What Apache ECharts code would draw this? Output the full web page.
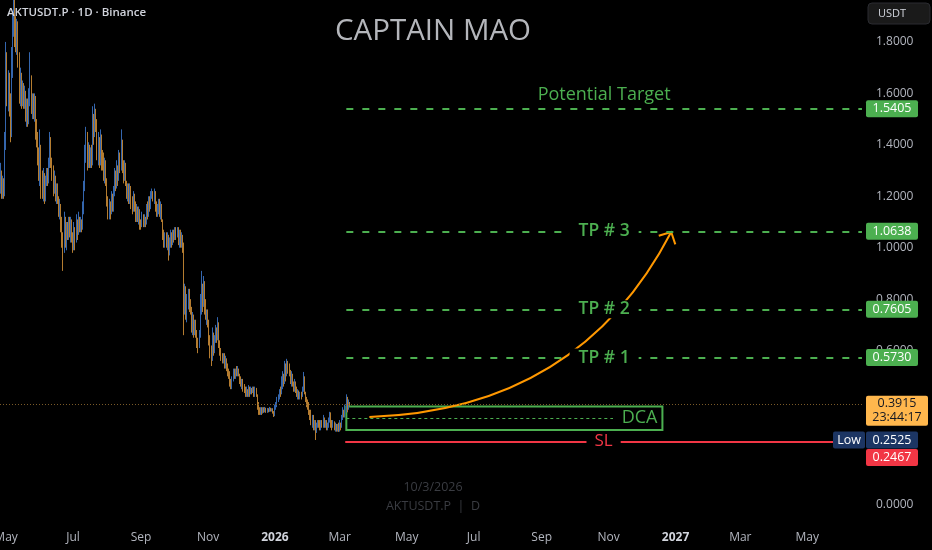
<!DOCTYPE html>
<html><head><meta charset="utf-8">
<script src="https://cdn.jsdelivr.net/npm/echarts@6/dist/echarts.min.js"></script>
<style>html,body{margin:0;padding:0;background:#000}#c{width:932px;height:550px}</style>
</head><body><div id="c"></div>
<script>
// ---------- data ----------
const firstDay = '2025-04-26';
const opens = [
1.25,1.29,1.22,1.25,1.21,1.40,1.72,1.60,1.66,1.56,
1.45,1.70,1.88,1.95,1.84,1.80,1.86,1.74,1.60,1.66,
1.57,1.62,1.56,1.60,1.52,1.56,1.50,1.58,1.66,1.55,
1.58,1.53,1.58,1.46,1.44,1.36,1.30,1.38,1.24,1.22,
1.27,1.20,1.25,1.29,1.26,1.33,1.42,1.34,1.30,1.24,
1.28,1.21,1.24,1.19,1.15,1.17,1.10,1.04,0.99,1.10,
1.04,1.07,1.04,1.10,1.06,1.10,1.04,1.00,1.07,1.02,
1.10,1.06,1.12,1.07,1.10,1.08,1.15,1.24,1.36,1.44,
1.34,1.38,1.33,1.37,1.33,1.48,1.44,1.52,1.47,1.38,
1.42,1.35,1.43,1.36,1.34,1.29,1.33,1.26,1.19,1.14,
1.16,1.13,1.19,1.15,1.21,1.28,1.25,1.31,1.27,1.35,
1.32,1.40,1.31,1.28,1.32,1.26,1.22,1.24,1.19,1.23,
1.18,1.15,1.20,1.17,1.12,1.15,1.11,1.14,1.09,1.08,
1.12,1.09,1.11,1.09,1.15,1.13,1.18,1.16,1.20,1.21,
1.19,1.21,1.16,1.13,1.15,1.18,1.14,1.16,1.11,1.05,
1.02,1.05,1.02,1.04,0.99,1.02,1.05,1.02,1.06,1.04,
1.07,1.05,1.07,1.03,1.06,1.02,1.04,1.00,0.80,0.84,
0.76,0.80,0.83,0.78,0.76,0.70,0.73,0.69,0.71,0.67,
0.63,0.62,0.66,0.78,0.84,0.79,0.86,0.78,0.73,0.75,
0.71,0.64,0.60,0.57,0.65,0.61,0.64,0.68,0.65,0.70,
0.63,0.60,0.58,0.57,0.58,0.55,0.57,0.54,0.52,0.50,
0.47,0.46,0.49,0.52,0.50,0.52,0.51,0.53,0.51,0.49,
0.47,0.48,0.46,0.45,0.43,0.44,0.43,0.45,0.43,0.445,
0.44,0.45,0.43,0.45,0.43,0.39,0.37,0.36,0.37,0.36,
0.37,0.365,0.375,0.365,0.372,0.365,0.375,0.368,0.372,0.36,
0.35,0.38,0.39,0.40,0.42,0.44,0.43,0.47,0.50,0.48,
0.53,0.50,0.55,0.53,0.51,0.49,0.50,0.47,0.45,0.47,
0.45,0.43,0.44,0.42,0.43,0.42,0.45,0.49,0.44,0.41,
0.40,0.39,0.36,0.35,0.33,0.34,0.30,0.32,0.29,0.31,
0.32,0.31,0.30,0.32,0.31,0.33,0.31,0.32,0.30,0.31,
0.33,0.35,0.32,0.31,0.32,0.30,0.31,0.295,0.305,0.295,
0.31,0.30,0.34,0.36,0.35,0.37,0.41,0.38,0.395];
const closes = [
1.29,1.22,1.25,1.21,1.40,1.72,1.60,1.66,1.56,1.45,
1.70,1.88,1.95,1.84,1.80,1.86,1.74,1.60,1.66,1.57,
1.62,1.56,1.60,1.52,1.56,1.50,1.58,1.66,1.55,1.58,
1.53,1.58,1.46,1.44,1.36,1.30,1.38,1.24,1.22,1.27,
1.20,1.25,1.29,1.26,1.33,1.42,1.34,1.30,1.24,1.28,
1.21,1.24,1.19,1.15,1.17,1.10,1.04,0.99,1.10,1.04,
1.07,1.04,1.10,1.06,1.10,1.04,1.00,1.07,1.02,1.10,
1.06,1.12,1.07,1.10,1.08,1.15,1.24,1.36,1.44,1.34,
1.38,1.33,1.37,1.33,1.48,1.44,1.52,1.47,1.38,1.42,
1.35,1.43,1.36,1.34,1.29,1.33,1.26,1.19,1.14,1.16,
1.13,1.19,1.15,1.21,1.28,1.25,1.31,1.27,1.35,1.32,
1.40,1.31,1.28,1.32,1.26,1.22,1.24,1.19,1.23,1.18,
1.15,1.20,1.17,1.12,1.15,1.11,1.14,1.09,1.08,1.12,
1.09,1.11,1.09,1.15,1.13,1.18,1.16,1.20,1.21,1.19,
1.21,1.16,1.13,1.15,1.18,1.14,1.16,1.11,1.05,1.02,
1.05,1.02,1.04,0.99,1.02,1.05,1.02,1.06,1.04,1.07,
1.05,1.07,1.03,1.06,1.02,1.04,1.00,0.80,0.84,0.76,
0.80,0.83,0.78,0.76,0.70,0.73,0.69,0.71,0.67,0.63,
0.62,0.66,0.78,0.84,0.79,0.86,0.78,0.73,0.75,0.71,
0.64,0.60,0.57,0.65,0.61,0.64,0.68,0.65,0.70,0.63,
0.60,0.58,0.57,0.58,0.55,0.57,0.54,0.52,0.50,0.47,
0.46,0.49,0.52,0.50,0.52,0.51,0.53,0.51,0.49,0.47,
0.48,0.46,0.45,0.43,0.44,0.43,0.45,0.43,0.445,0.44,
0.45,0.43,0.45,0.43,0.39,0.37,0.36,0.37,0.36,0.37,
0.365,0.375,0.365,0.372,0.365,0.375,0.368,0.372,0.36,0.35,
0.38,0.39,0.40,0.42,0.44,0.43,0.47,0.50,0.48,0.53,
0.50,0.55,0.53,0.51,0.49,0.50,0.47,0.45,0.47,0.45,
0.43,0.44,0.42,0.43,0.42,0.45,0.49,0.44,0.41,0.40,
0.39,0.36,0.35,0.33,0.34,0.30,0.32,0.29,0.31,0.32,
0.31,0.30,0.32,0.31,0.33,0.31,0.32,0.30,0.31,0.33,
0.35,0.32,0.31,0.32,0.30,0.31,0.295,0.305,0.295,0.31,
0.30,0.34,0.36,0.35,0.37,0.41,0.38,0.395,0.3915];
const lows = [
1.21,1.19,1.19,1.19,1.20,1.38,1.55,1.53,1.51,1.41,
1.43,1.66,1.82,1.78,1.76,1.75,1.70,1.56,1.55,1.54,
1.55,1.54,1.54,1.49,1.47,1.47,1.48,1.55,1.52,1.50,
1.50,1.49,1.42,1.39,1.32,1.26,1.24,1.19,1.19,1.18,
1.17,1.18,1.24,1.24,1.25,1.31,1.31,1.26,1.20,1.21,
1.18,1.17,1.17,1.12,1.11,1.06,1.00,0.91,0.98,1.00,
0.99,1.03,1.03,1.04,1.02,1.02,0.98,0.99,0.99,1.02,
1.03,1.05,1.06,1.06,1.06,1.07,1.13,1.22,1.33,1.30,
1.31,1.31,1.31,1.31,1.32,1.40,1.43,1.45,1.34,1.32,
1.31,1.32,1.30,1.30,1.26,1.25,1.24,1.16,1.11,1.11,
1.11,1.13,1.14,1.14,1.20,1.22,1.23,1.24,1.26,1.29,
1.30,1.29,1.25,1.26,1.24,1.19,1.18,1.17,1.17,1.15,
1.13,1.14,1.14,1.10,1.10,1.10,1.09,1.07,1.07,1.08,
1.08,1.08,1.08,1.09,1.11,1.12,1.14,1.15,1.19,1.18,
1.17,1.14,1.12,1.12,1.13,1.12,1.11,1.10,1.03,1.00,
1.00,1.00,0.99,0.95,0.97,1.00,1.00,1.01,1.02,1.03,
1.03,1.04,1.01,1.00,1.00,1.00,0.98,0.66,0.74,0.72,
0.71,0.76,0.75,0.74,0.67,0.66,0.65,0.66,0.65,0.61,
0.59,0.61,0.65,0.74,0.75,0.77,0.74,0.72,0.70,0.69,
0.62,0.57,0.54,0.56,0.58,0.59,0.63,0.63,0.64,0.61,
0.58,0.56,0.55,0.55,0.53,0.53,0.52,0.50,0.49,0.46,
0.45,0.45,0.48,0.49,0.49,0.50,0.50,0.50,0.47,0.46,
0.45,0.44,0.435,0.42,0.42,0.42,0.42,0.42,0.43,0.43,
0.435,0.42,0.42,0.42,0.37,0.35,0.35,0.35,0.35,0.355,
0.358,0.36,0.358,0.358,0.36,0.362,0.363,0.363,0.355,0.342,
0.345,0.37,0.38,0.40,0.41,0.42,0.43,0.45,0.46,0.47,
0.48,0.50,0.51,0.50,0.47,0.46,0.46,0.44,0.44,0.435,
0.42,0.41,0.41,0.41,0.41,0.42,0.44,0.43,0.40,0.38,
0.37,0.35,0.33,0.31,0.30,0.29,0.29,0.2525,0.28,0.30,
0.30,0.29,0.29,0.30,0.30,0.30,0.30,0.29,0.29,0.30,
0.32,0.30,0.29,0.30,0.29,0.285,0.285,0.285,0.284,0.285,
0.29,0.30,0.33,0.34,0.34,0.36,0.36,0.37,0.385];
const highs = [
1.33,1.30,1.28,1.27,1.45,1.80,1.76,1.69,1.68,1.60,
1.78,1.92,1.98,1.97,1.90,1.89,1.88,1.76,1.70,1.68,
1.65,1.64,1.63,1.61,1.58,1.58,1.62,1.76,1.67,1.60,
1.60,1.60,1.59,1.50,1.45,1.39,1.46,1.40,1.30,1.31,
1.29,1.28,1.31,1.31,1.35,1.45,1.43,1.35,1.32,1.30,
1.28,1.25,1.25,1.20,1.19,1.17,1.12,1.06,1.14,1.12,
1.10,1.10,1.12,1.12,1.12,1.11,1.06,1.10,1.08,1.13,
1.11,1.14,1.12,1.12,1.11,1.18,1.26,1.40,1.47,1.45,
1.41,1.40,1.39,1.40,1.55,1.52,1.56,1.54,1.50,1.45,
1.43,1.46,1.44,1.38,1.37,1.35,1.34,1.27,1.20,1.19,
1.18,1.22,1.21,1.24,1.31,1.30,1.34,1.32,1.38,1.37,
1.46,1.42,1.34,1.34,1.33,1.26,1.25,1.25,1.25,1.24,
1.20,1.22,1.21,1.18,1.17,1.16,1.16,1.15,1.11,1.14,
1.13,1.13,1.12,1.17,1.18,1.20,1.20,1.22,1.23,1.22,
1.23,1.22,1.18,1.17,1.19,1.19,1.18,1.17,1.11,1.07,
1.06,1.06,1.06,1.05,1.04,1.07,1.06,1.07,1.07,1.08,
1.08,1.08,1.08,1.07,1.07,1.06,1.05,1.02,0.86,0.85,
0.82,0.84,0.84,0.80,0.77,0.75,0.74,0.72,0.72,0.68,
0.65,0.68,0.82,0.91,0.86,0.89,0.87,0.80,0.76,0.76,
0.72,0.66,0.62,0.69,0.67,0.66,0.70,0.69,0.73,0.71,
0.64,0.61,0.59,0.59,0.59,0.58,0.57,0.55,0.53,0.52,
0.49,0.50,0.53,0.53,0.53,0.54,0.54,0.53,0.51,0.50,
0.49,0.49,0.47,0.46,0.46,0.45,0.466,0.46,0.46,0.455,
0.46,0.46,0.46,0.455,0.43,0.40,0.38,0.38,0.38,0.38,
0.38,0.381,0.378,0.377,0.376,0.381,0.378,0.376,0.376,0.365,
0.39,0.40,0.42,0.43,0.45,0.46,0.50,0.52,0.51,0.56,
0.55,0.568,0.56,0.55,0.525,0.52,0.51,0.48,0.49,0.48,
0.46,0.45,0.445,0.44,0.44,0.46,0.517,0.50,0.44,0.42,
0.41,0.40,0.37,0.37,0.35,0.35,0.33,0.33,0.32,0.33,
0.33,0.33,0.33,0.33,0.35,0.34,0.33,0.33,0.32,0.34,
0.362,0.36,0.33,0.33,0.325,0.32,0.315,0.315,0.32,0.33,
0.32,0.35,0.38,0.37,0.39,0.43,0.42,0.41,0.40];

const xMonthTicks = ['2025-05-01','2025-07-01','2025-09-01','2025-11-01','2026-01-01','2026-03-01',
  '2026-05-01','2026-07-01','2026-09-01','2026-11-01','2027-01-01','2027-03-01','2027-05-01'];
const monthNames = ['Jan','Feb','Mar','Apr','May','Jun','Jul','Aug','Sep','Oct','Nov','Dec'];
const yTicks = [0, 0.6, 0.8, 1.0, 1.2, 1.4, 1.6, 1.8];

const targetLevel = 1.5405;
const tpLevels = [1.0638, 0.7605, 0.5730];
const tpNames = ['TP # 3', 'TP # 2', 'TP # 1'];
const dcaTop = 0.3822, dcaMid = 0.337, dcaBottom = 0.2916;
const slLevel = 0.2467;
const lastPrice = 0.3915, lowPrice = 0.2525, countdown = '23:44:17';
const planStart = '2026-03-07', dcaEnd = '2026-12-20', dcaMidEnd = '2026-11-05';
const arrowPts = [['2026-03-28', 0.342], ['2026-10-05', 0.369], ['2026-12-28', 1.061]];
const tagValues = [targetLevel, tpLevels[0], tpLevels[1], tpLevels[2], lastPrice, lowPrice, slLevel];

// ---------- styles ----------
const DAY = 86400000;
const ts = s => Date.parse(s + 'T00:00:00Z');
const GREEN = '#4caf50', RED = '#f23645', ORANGE = '#ff9800', UP = '#3466ae', DOWN = '#b47c30';
const FONT = '"Open Sans", "Noto Sans", sans-serif';
const AXIS_TXT = '#b2b5be';
const xMin = ts('2026-01-01') - 250.55 * DAY, xMax = ts('2026-01-01') + 534.85 * DAY;
const lineEnd = xMax - 3600000;
const tagStyles = [
  {bg: GREEN, fg: '#fff'}, {bg: GREEN, fg: '#fff'}, {bg: GREEN, fg: '#fff'}, {bg: GREEN, fg: '#fff'},
  {bg: '#ffb74d', fg: '#131722', sub: countdown, w: 62},
  {bg: '#1c3563', fg: '#fff', pre: 'Low'},
  {bg: RED, fg: '#fff', dy: 16}
];

const candleData = opens.map((o, i) => [ts(firstDay) + i * DAY, o, closes[i], lows[i], highs[i]]);

const dashGreen = {color: GREEN, width: 2, type: [7, 9]};
const markLines = [
  {yAxis: lastPrice, lineStyle: {color: '#7a5a28', width: 1, type: [1, 2]}, label: {show: false}},
  [{coord: [ts(planStart), targetLevel], lineStyle: dashGreen,
    label: {show: true, position: 'insideMiddleTop', distance: 5, formatter: 'Potential Target',
      color: GREEN, fontSize: 18, fontFamily: FONT}},
   {coord: [lineEnd, targetLevel]}],
  ...tpLevels.map((v, k) => [
    {coord: [ts(planStart), v], lineStyle: dashGreen,
     label: {show: true, position: 'middle', distance: 0, verticalAlign: 'middle', formatter: tpNames[k],
       color: GREEN, fontSize: 17.5, fontWeight: 600, fontFamily: FONT, backgroundColor: '#000', padding: [0, 9]}},
    {coord: [lineEnd, v]}]),
  [{coord: [ts(planStart), dcaMid], lineStyle: {color: GREEN, width: 1, type: [3, 3]}, label: {show: false}},
   {coord: [ts(dcaMidEnd), dcaMid]}],
  [{coord: [ts(planStart) - DAY, slLevel], lineStyle: {color: RED, width: 2, type: 'solid'},
    label: {show: true, position: 'middle', distance: 0, verticalAlign: 'middle', formatter: 'SL',
      color: RED, fontSize: 17, fontFamily: FONT, backgroundColor: '#000', padding: [0, 8]}},
   {coord: [lineEnd, slLevel]}]
];

function renderArrow(params, api) {
  const p0 = api.coord([ts(arrowPts[0][0]), arrowPts[0][1]]);
  const c = api.coord([ts(arrowPts[1][0]), arrowPts[1][1]]);
  const p2 = api.coord([ts(arrowPts[2][0]), arrowPts[2][1]]);
  const dx = p2[0] - c[0], dy = p2[1] - c[1], len = Math.hypot(dx, dy);
  const bx = -dx / len, by = -dy / len, L = 13, a = 0.8;
  const rot = ang => [p2[0] + L * (bx * Math.cos(ang) - by * Math.sin(ang)),
                      p2[1] + L * (bx * Math.sin(ang) + by * Math.cos(ang))];
  return {type: 'group', children: [
    {type: 'bezierCurve', shape: {x1: p0[0], y1: p0[1], x2: p2[0], y2: p2[1], cpx1: c[0], cpy1: c[1]},
     style: {stroke: ORANGE, lineWidth: 2, fill: null}},
    {type: 'polyline', shape: {points: [rot(a), p2, rot(-a)]}, style: {stroke: ORANGE, lineWidth: 2, fill: null}}
  ]};
}

function renderTag(params, api) {
  const i = params.dataIndex, st = tagStyles[i];
  const p = api.coord([api.value(0), api.value(1)]);
  const x0 = p[0] + 4, w = st.w || 52, h = st.sub ? 30 : 17;
  const y0 = p[1] - 8.5 + (st.dy || 0);
  const txt = (t, x, y) => ({type: 'text', x, y, style: {text: t, fill: st.fg, fontSize: 12.5, fontFamily: FONT,
    align: 'center', verticalAlign: 'middle'}});
  const ch = [{type: 'rect', shape: {x: x0, y: y0, width: w, height: h, r: 2}, style: {fill: st.bg}}];
  if (st.sub) {
    ch.push(txt(tagValues[i].toFixed(4), x0 + w / 2, y0 + 8));
    ch.push(txt(st.sub, x0 + w / 2, y0 + 22));
  } else {
    ch.push(txt(tagValues[i].toFixed(4), x0 + w / 2, y0 + h / 2));
  }
  if (st.pre) {
    ch.push({type: 'rect', shape: {x: x0 - 33, y: y0, width: 32, height: h, r: 2}, style: {fill: st.bg}});
    ch.push(txt(st.pre, x0 - 17, y0 + h / 2));
  }
  return {type: 'group', children: ch};
}

const chart = echarts.init(document.getElementById('c'));
chart.setOption({
  backgroundColor: '#000',
  animation: false,
  grid: {left: 0, right: 70, top: 0, bottom: 25, outerBoundsMode: 'none'},
  xAxis: {
    type: 'value', min: xMin, max: xMax,
    axisLine: {show: false}, axisTick: {show: false}, splitLine: {show: false},
    axisLabel: {
      customValues: xMonthTicks.map(ts), margin: 7, color: AXIS_TXT, fontSize: 12, fontFamily: FONT,
      formatter: v => { const d = new Date(v); const m = d.getUTCMonth();
        return m === 0 ? '{y|' + d.getUTCFullYear() + '}' : monthNames[m]; },
      rich: {y: {fontWeight: 'bold', color: '#d1d4dc', fontSize: 12, fontFamily: FONT}}
    }
  },
  yAxis: {
    type: 'value', position: 'right', min: -0.078, max: 1.963,
    axisLine: {show: false}, axisTick: {show: false}, splitLine: {show: false},
    axisLabel: {customValues: yTicks, formatter: v => v.toFixed(4), color: AXIS_TXT, fontSize: 12,
      fontFamily: FONT, margin: 14}
  },
  series: [
    {
      type: 'candlestick', data: candleData, barWidth: 0.3, clip: false, silent: true,
      itemStyle: {color: UP, color0: DOWN, borderColor: UP, borderColor0: DOWN, borderWidth: 1},
      markLine: {silent: true, symbol: ['none', 'none'], animation: false, data: markLines},
      markArea: {silent: true, animation: false, data: [[
        {coord: [ts(planStart), dcaTop], itemStyle: {color: 'rgba(0,0,0,0)', borderColor: GREEN, borderWidth: 2},
         label: {show: true, position: 'insideRight', distance: 6, formatter: 'DCA', color: GREEN,
           fontSize: 18, fontFamily: FONT}},
        {coord: [ts(dcaEnd), dcaBottom]}]]}
    },
    {type: 'custom', silent: true, clip: false, renderItem: renderArrow,
     data: [[ts(arrowPts[0][0]), arrowPts[0][1]]], encode: {x: 0, y: 1}},
    {type: 'custom', silent: true, clip: false, renderItem: renderTag, z: 5,
     data: tagValues.map(v => [xMax, v]), encode: {x: 0, y: 1}}
  ],
  graphic: [
    {type: 'text', x: 433, y: 32, z: 10, style: {text: 'CAPTAIN MAO', fill: '#b4b6bb', fontSize: 29.5,
      fontFamily: FONT, align: 'center', verticalAlign: 'middle'}},
    {type: 'text', x: 7, y: 13, z: 10, style: {text: 'AKTUSDT.P · 1D · Binance', fill: '#d1d4dc', fontSize: 11.5,
      fontWeight: 600, fontFamily: FONT, align: 'left', verticalAlign: 'middle'}},
    {type: 'text', x: 433, y: 487, z: 1, style: {text: '10/3/2026', fill: '#3a3c42', fontSize: 12.5,
      fontFamily: FONT, align: 'center', verticalAlign: 'middle'}},
    {type: 'text', x: 433, y: 506, z: 1, style: {text: 'AKTUSDT.P  |  D', fill: '#3a3c42', fontSize: 12.5,
      fontFamily: FONT, align: 'center', verticalAlign: 'middle'}},
    {type: 'rect', z: 10, shape: {x: 868, y: 3, width: 62, height: 21, r: 4},
     style: {fill: '#1a1a1a', stroke: '#2a2b30', lineWidth: 1}},
    {type: 'text', x: 878, y: 13.5, z: 11, style: {text: 'USDT', fill: '#d1d4dc', fontSize: 11,
      fontFamily: FONT, align: 'left', verticalAlign: 'middle'}}
  ]
});
</script>
</body></html>
